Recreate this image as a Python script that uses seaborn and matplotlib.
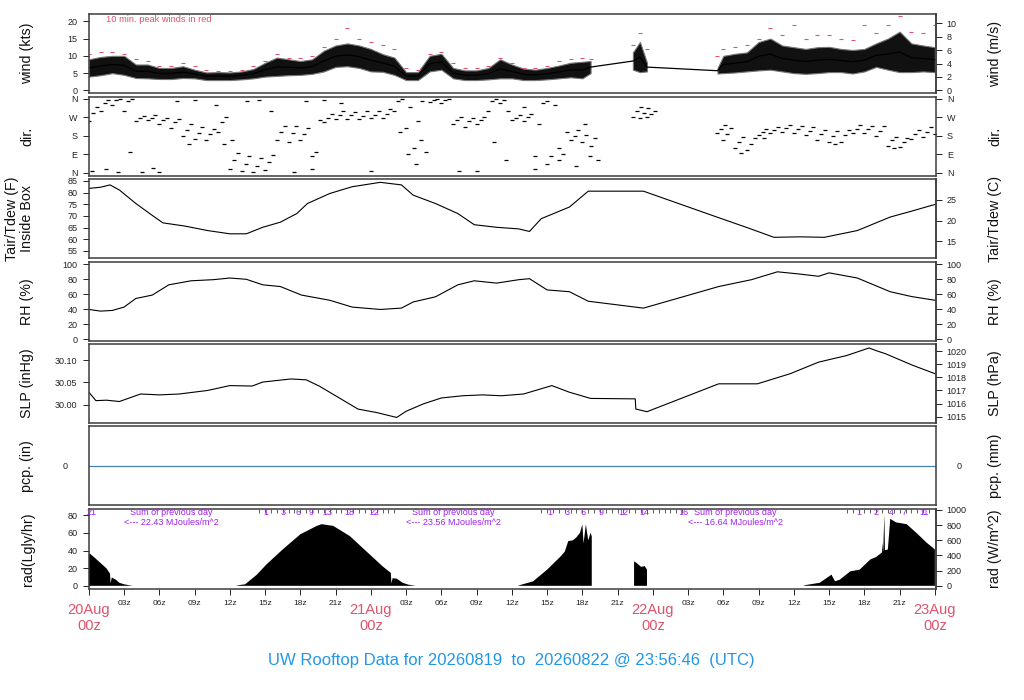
import numpy as np
import pandas as pd
import matplotlib
matplotlib.use("Agg")
import matplotlib.pyplot as plt
import seaborn as sns

# ------------------------------------------------------------------
# DATA  (time = hours after 20 Aug 00z)
# ------------------------------------------------------------------
wind_t = [0, 1, 2, 3, 4, 5, 6, 7, 8, 9, 10, 11, 12, 13, 14, 15, 16, 17, 18, 19,
          20, 21, 22, 23, 24, 25, 26, 27, 28, 29, 30, 31, 32, 33, 34, 35, 36, 37,
          38, 39, 40, 41, 42, 42.7, 46.3, 46.9, 47.5, 53.5, 54, 55, 56, 57, 58,
          59, 60, 61, 62, 63, 64, 65, 66, 67, 68, 69, 70, 71, 72]
wind_lo = [4.0, 4.4, 5.0, 4.5, 3.6, 3.5, 3.3, 3.3, 3.6, 3.5, 3.0, 3.0, 3.0, 3.2, 3.5,
           4.0, 4.2, 4.4, 4.5, 4.8, 5.5, 6.8, 7.0, 6.5, 5.5, 5.4, 4.5, 3.0, 3.0, 5.5,
           6.0, 3.5, 3.0, 3.0, 3.2, 3.5, 3.5, 3.0, 3.0, 3.2, 3.5, 3.8, 3.5,
           5.0, 6.0, 5.3, 5.5, 4.9, 5.0, 5.2, 5.5, 5.8, 6.0, 5.5, 5.0, 4.8, 5.0,
           5.3, 5.3, 4.9, 5.5, 6.8, 6.0, 5.3, 5.3, 5.5, 5.3]
wind_hi = [9.0, 9.7, 10.0, 10.0, 7.5, 7.5, 6.5, 6.5, 7.0, 6.0, 5.2, 5.3, 5.2, 5.5, 6.2,
           8.0, 9.5, 9.0, 8.5, 9.0, 11.5, 13.0, 13.6, 13.0, 12.0, 10.5, 9.5, 5.3, 5.3,
           10.0, 10.6, 6.5, 5.8, 5.8, 6.5, 9.0, 7.5, 6.3, 6.0, 6.5, 7.2, 8.0, 8.3,
           8.5, 11.0, 14.0, 8.0, 6.5, 10.0, 10.6, 11.0, 14.0, 15.0, 13.0, 12.5, 12.0,
           12.5, 12.6, 12.0, 11.7, 12.0, 13.6, 15.0, 17.0, 13.6, 13.0, 12.5]
wind_gust = [10.5, 11.0, 11.0, 10.5, 9.0, 8.5, 7.0, 7.0, 8.0, 7.0, 6.0, 5.5, 5.5, 6.0,
             7.0, 8.5, 10.5, 9.5, 9.5, 10.0, 12.5, 15.0, 18.0, 15.0, 14.0, 13.0, 12.0,
             6.5, 6.0, 10.5, 11.0, 8.0, 6.5, 6.5, 7.0, 9.5, 8.0, 6.5, 6.5, 7.0, 8.5,
             9.0, 9.5, 9.0, 13.0, 16.5, 12.0, 10.0, 12.0, 12.5, 13.0, 15.0, 18.0, 16.0,
             19.0, 15.0, 16.0, 16.0, 15.0, 14.6, 19.0, 16.5, 19.0, 21.6, 17.0, 16.5, 19.0]

# wind direction (deg, 0 = N) : three readings per hour (lower / central / upper)
dir_t = wind_t
dir_lo = [250, 300, 330, 300, 250, 255, 240, 220, 180, 165, 160, 200, 20, 10, 5, 15, 160,
          150, 160, 80, 245, 260, 262, 260, 265, 265, 300, 220, 250, 345, 340, 240, 225,
          240, 300, 340, 255, 250, 80, 40, 60, 160, 150,
          130, 270, 267, 270, 194, 160, 120, 112, 185, 195, 200, 195, 185, 160, 150,
          150, 195, 195, 180, 130, 126, 165, 175, 190]
dir_mid = [290, 340, 355, 350, 265, 265, 255, 245, 210, 195, 190, 245, 60, 40, 30, 50, 200,
           195, 190, 100, 265, 280, 280, 278, 280, 285, 350, 320, 350, 355, 355, 255, 250,
           258, 350, 355, 265, 270, 240, 80, 90, 180, 185,
           170, 300, 290, 285, 215, 190, 150, 140, 200, 210, 220, 215, 205, 190, 180,
           185, 215, 215, 205, 160, 150, 190, 200, 215]
dir_hi = [320, 355, 360, 360, 275, 280, 265, 260, 240, 225, 215, 270, 95, 80, 70, 85, 230,
          230, 220, 255, 285, 300, 295, 300, 300, 310, 360, 120, 100, 360, 360, 270, 268,
          270, 360, 300, 280, 285, 340, 330, 200, 210, 80,
          60, 320, 315, 300, 233, 220, 175, 170, 215, 225, 235, 230, 225, 210, 205,
          210, 233, 230, 230, 175, 170, 210, 225, 235]
stray_t = [0.3, 1.5, 2.5, 3.5, 4.5, 5.5, 6.0, 7.5, 8.5, 9.0, 10.8, 11.5, 12.2, 13.5,
           14.5, 15.5, 17.5, 18.5, 19.0, 20.0, 21.5, 24.0, 26.5, 27.2, 27.8, 28.3, 31.5,
           33.0, 34.5, 35.5, 37.0, 38.0, 39.0, 40.0, 41.5, 42.2, 55.5, 57.5, 63.5, 68.5]
stray_d = [10, 20, 5, 100, 5, 25, 3, 350, 140, 355, 330, 140, 160, 350, 355, 300, 5, 350,
           20, 355, 340, 10, 200, 90, 40, 160, 10, 10, 150, 60, 320, 20, 350, 120, 30,
           240, 95, 170, 140, 120]

temp_t = [0, 1.0, 1.8, 2.6, 4.0, 5.4, 6.3, 8.2, 10.1, 12.0, 13.4, 14.8, 16.3, 17.7, 18.6,
          20.5, 22.4, 24.8, 26.6, 27.6, 29.5, 31.4, 32.8, 34.7, 36.6, 37.5, 38.5, 40.9,
          42.5, 46.3, 47.2, 53.5, 56.0, 58.3, 60.5, 62.6, 65.4, 68.2, 70.0, 72.0]
temp_f = [81.8, 82.3, 83.3, 81.1, 75.3, 70.2, 67.0, 65.6, 63.7, 62.3, 62.3, 65.1, 67.3,
          71.0, 75.3, 79.6, 82.5, 84.4, 83.3, 78.9, 75.3, 71.0, 66.2, 65.1, 64.4, 63.3,
          68.8, 73.8, 80.6, 80.6, 80.6, 69.4, 65.0, 60.8, 61.0, 60.8, 63.7, 69.5, 72.0, 74.9]

rh_t = [0, 1, 2, 3, 4, 5.4, 6.8, 8.7, 10.6, 12.0, 13.4, 14.8, 16.3, 18.1, 20.5, 22.4,
        24.8, 26.6, 27.6, 29.5, 31.4, 32.8, 34.7, 36.6, 37.5, 39.0, 40.9, 42.5, 47.2,
        53.6, 56.4, 58.6, 60.5, 62.1, 63.0, 65.4, 68.2, 70.0, 72.0]
rh = [39.7, 37.5, 38.4, 42.9, 54.4, 58.9, 72.6, 78.0, 79.5, 81.7, 80.0, 72.6, 70.3, 58.9,
      52.0, 42.9, 39.7, 41.5, 49.7, 56.6, 72.6, 78.0, 74.9, 79.5, 80.8, 65.8, 63.4, 50.7,
      41.5, 70.3, 79.5, 90.0, 87.0, 84.0, 88.6, 81.7, 63.4, 57.0, 52.0]

slp_t = [0, 0.6, 1.5, 2.6, 4.4, 6.0, 7.7, 10.1, 12.0, 13.9, 14.8, 17.2, 18.5, 19.6, 21.0,
         22.9, 24.5, 26.2, 27.0, 28.5, 30.0, 31.8, 33.5, 35.1, 37.0, 39.4, 40.9, 42.7,
         46.5, 46.55, 47.5, 53.6, 56.9, 59.7, 62.1, 64.5, 66.4, 67.0, 67.8, 70.1, 72.0]
slp_inhg = [30.028, 30.009, 30.010, 30.007, 30.024, 30.022, 30.024, 30.032, 30.043, 30.042,
            30.051, 30.058, 30.056, 30.042, 30.020, 29.990, 29.982, 29.971, 29.985, 30.002,
            30.015, 30.020, 30.022, 30.020, 30.024, 30.043, 30.028, 30.014, 30.013, 29.990,
            29.984, 30.047, 30.047, 30.070, 30.096, 30.111, 30.128, 30.122, 30.115, 30.089,
            30.070]

pcp_t = [0, 72]
pcp_in = [0.0, 0.0]

nan = float("nan")
rad_t = [0, 0.5, 1.0, 1.5, 1.8, 1.85, 1.95, 2.3, 2.6, 3.0, 3.6, 3.8, 12.5, 12.8, 13.3,
         13.5, 14.3, 15.1, 16.5, 18.0, 19.4, 19.8, 20.8, 22.2, 23.6, 25.0, 25.7, 25.75,
         25.85, 26.2, 26.7, 27.2, 27.7, 27.8, 36.5, 36.8, 37.8, 39.0, 40.1, 40.5, 40.8,
         41.2, 41.5, 41.8, 42.0, 42.1, 42.3, 42.5, 42.7, 42.8, 44.0, 46.4, 46.7, 47.0,
         47.3, 47.5, 50.0, 53.5, 60.8, 61.0, 62.2, 63.2, 63.5, 63.9, 64.8, 65.6, 66.5,
         67.0, 67.5, 67.55, 67.6, 67.7, 67.75, 68.0, 68.2, 68.7, 69.6, 70.4, 71.3, 72.0]
rad_w = [436, 370, 300, 230, 160, 30, 110, 80, 40, 20, 3, 0, 0, 10, 20,
         45, 147, 280, 480, 680, 790, 813, 790, 657, 457, 257, 170, 30,
         100, 95, 40, 15, 3, 0, 0, 15, 58, 213, 380, 450, 590,
         600, 640, 700, 810, 560, 810, 600, 700, 650, nan, 324, 290, 250,
         260, 213, nan, 0, 0, 10, 40, 147, 60, 80, 191, 213, 347,
         380, 440, 569, 440, 947, 470, 480, 884, 836, 813, 702, 569, 480]

# running daily radiation sums (MJ/m^2) printed along the top of the panel
cum_t = [0.25, 15.1, 16.5, 17.8, 18.9, 20.3, 22.2, 24.3,
         39.2, 40.7, 42.1, 43.6, 45.5, 47.3, 50.6,
         65.5, 67.0, 68.3, 69.4, 71.1]
cum_labels = ["21", "1", "3", "6", "9", "13", "18", "22",
              "1", "3", "6", "9", "12", "14", "16",
              "1", "2", "4", "7", "11"]
cum_tick_spans = [(14.5, 26.0), (38.5, 50.5), (64.5, 72.0)]
sum_t = [7.05, 31.05, 55.05]
sum_values = ["22.43", "23.56", "16.64"]

day_t = [0, 24, 48, 72]
day_labels = ["20Aug", "21Aug", "22Aug", "23Aug"]
xtick_hours = list(range(0, 73, 3))

# ------------------------------------------------------------------
# STYLE
# ------------------------------------------------------------------
sns.set_theme(style="ticks")
plt.rcParams["font.family"] = ["Liberation Sans", "DejaVu Sans"]
plt.rcParams["axes.facecolor"] = "white"

RED = "#DF536B"
PURPLE = "#A020F0"
BLUE = "#2297E6"
LY_TO_W = 11.63
KT_TO_MS = 0.514444
HPA_TO_INHG = 0.0295300

W, H = 1024.0, 700.0
X0, X1 = 88.5, 935.7
panel_tops = [14.0, 96.7, 179.3, 261.7, 344.0, 426.0, 509.3]
PH = 79.2
XLIM = (-0.03, 72.07)

fig = plt.figure(figsize=(10.24, 7.0), dpi=100)
axes = [fig.add_axes([X0 / W, 1 - (t + PH) / H, (X1 - X0) / W, PH / H]) for t in panel_tops]
ax_w, ax_d, ax_t, ax_rh, ax_p, ax_pc, ax_r = axes

TICK = dict(direction="out", length=4, width=0.7, labelsize=6.5, colors="#222222")


def style(ax):
    ax.set_xlim(XLIM)
    for s in ax.spines.values():
        s.set_color("#3c3c3c")
        s.set_linewidth(1.1)
    ax.tick_params(axis="y", pad=4, **TICK)
    ax.tick_params(axis="x", bottom=False, labelbottom=False)
    ax.set_xlabel("")
    ax.set_ylabel("")
    ax.grid(False)


def right_axis(ax, f, g, ticks, labels=None):
    sec = ax.secondary_yaxis("right", functions=(f, g))
    sec.set_yticks(ticks)
    if labels is not None:
        sec.set_yticklabels(labels)
    sec.tick_params(axis="y", pad=4, **TICK)
    sec.spines["right"].set_color("#3c3c3c")
    sec.spines["right"].set_linewidth(1.1)
    return sec


# ---------------- wind ----------------
wt = np.array(wind_t, float)
wlo = np.array(wind_lo, float)
whi = np.array(wind_hi, float)
breaks = np.where(np.diff(wt) > 1.5)[0] + 1
for seg in np.split(np.arange(len(wt)), breaks):
    if len(seg) > 1:
        ax_w.fill_between(wt[seg], wlo[seg], whi[seg], color="#111111",
                          edgecolor="#777777", linewidth=0.8)
sns.lineplot(x=wt, y=(wlo + whi) / 2, ax=ax_w, color="black", linewidth=0.9,
             estimator=None, sort=False)
ax_w.plot(wt, wind_gust, ls="none", marker="_", ms=3.2, mew=0.8, color=RED)
ax_w.set_ylim(-0.8, 22.1)
ax_w.set_yticks([0, 5, 10, 15, 20])
style(ax_w)
right_axis(ax_w, lambda k: k * KT_TO_MS, lambda m: m / KT_TO_MS, [0, 2, 4, 6, 8, 10])
ax_w.text(1.5, 0.935, "10 min. peak winds in red", transform=ax_w.get_xaxis_transform(),
          ha="left", va="center", fontsize=6.7, color=RED)

# ---------------- direction ----------------
dt = np.array(dir_t, float)
pts = pd.DataFrame({
    "t": np.concatenate([dt, dt + 1 / 3, dt + 2 / 3, np.array(stray_t, float)]),
    "d": np.concatenate([dir_lo, dir_mid, dir_hi, stray_d]).astype(float),
})
sns.scatterplot(data=pts, x="t", y="d", ax=ax_d, marker="_", color="black", s=7,
                linewidth=0.9)
ax_d.set_ylim(-16, 371)
ax_d.set_yticks([0, 90, 180, 270, 360])
ax_d.set_yticklabels(["N", "E", "S", "W", "N"])
style(ax_d)
ax_d.tick_params(axis="y", right=True, labelright=True)

# ---------------- temperature ----------------
sns.lineplot(x=temp_t, y=temp_f, ax=ax_t, color="black", linewidth=0.8,
             estimator=None, sort=False)
ax_t.set_ylim(51.7, 85.7)
ax_t.set_yticks([55, 60, 65, 70, 75, 80, 85])
style(ax_t)
right_axis(ax_t, lambda f: (f - 32) * 5 / 9, lambda c: c * 9 / 5 + 32, [15, 20, 25])

# ---------------- RH ----------------
sns.lineplot(x=rh_t, y=rh, ax=ax_rh, color="black", linewidth=0.8,
             estimator=None, sort=False)
ax_rh.set_ylim(-2.3, 103.5)
ax_rh.set_yticks([0, 20, 40, 60, 80, 100])
style(ax_rh)
right_axis(ax_rh, lambda v: v, lambda v: v, [0, 20, 40, 60, 80, 100])

# ---------------- SLP ----------------
sns.lineplot(x=slp_t, y=slp_inhg, ax=ax_p, color="black", linewidth=0.8,
             estimator=None, sort=False)
ax_p.set_ylim(29.958, 30.137)
ax_p.set_yticks([30.00, 30.05, 30.10])
ax_p.set_yticklabels(["30.00", "30.05", "30.10"])
style(ax_p)
right_axis(ax_p, lambda i: i / HPA_TO_INHG, lambda h: h * HPA_TO_INHG,
           [1015, 1016, 1017, 1018, 1019, 1020])

# ---------------- precipitation ----------------
sns.lineplot(x=pcp_t, y=pcp_in, ax=ax_pc, color="steelblue", linewidth=0.9,
             estimator=None, sort=False)
ax_pc.set_ylim(-1, 1)
ax_pc.set_yticks([0])
ax_pc.set_yticklabels(["0"])
style(ax_pc)
ax_pc.tick_params(axis="y", left=False, right=False, labelright=True, pad=11)

# ---------------- radiation ----------------
rt = np.array(rad_t, float)
rly = np.array(rad_w, float) / LY_TO_W
ax_r.fill_between(rt, 0, rly, color="black", linewidth=0)
ax_r.set_ylim(-35.5 / LY_TO_W, 1009 / LY_TO_W)
ax_r.set_yticks([0, 20, 40, 60, 80])
style(ax_r)
right_axis(ax_r, lambda l: l * LY_TO_W, lambda w: w / LY_TO_W, [0, 200, 400, 600, 800, 1000])
ax_r.set_xticks(xtick_hours)
ax_r.set_xticklabels(["" if h % 24 == 0 else f"{h % 24:02d}z" for h in xtick_hours])
ax_r.tick_params(axis="x", bottom=True, labelbottom=True, direction="out", length=4,
                 width=0.7, pad=4, labelsize=6, colors="#222222")
xtr = ax_r.get_xaxis_transform()
for t0, t1 in cum_tick_spans:
    tk = np.arange(t0, t1 + 1e-6, 0.5)
    ax_r.plot(tk, np.full(len(tk), 0.975), transform=xtr, ls="none", marker="|",
              ms=2.5, mew=0.6, color="#444444", clip_on=False)
for t, lab in zip(cum_t, cum_labels):
    ax_r.text(t, 0.955, lab, transform=xtr, ha="center", va="center",
              fontsize=6.5, color=PURPLE)
for t, v in zip(sum_t, sum_values):
    ax_r.text(t, 0.955, "Sum of previous day", transform=xtr, ha="center",
              va="center", fontsize=6.5, color=PURPLE)
    ax_r.text(t, 0.83, f"<--- {v} MJoules/m^2", transform=xtr, ha="center",
              va="center", fontsize=6.5, color=PURPLE)
for t, lab in zip(day_t, day_labels):
    ax_r.text(t, -0.27, lab, transform=xtr, ha="center", va="center",
              fontsize=10.5, color=RED)
    ax_r.text(t, -0.475, "00z", transform=xtr, ha="center", va="center",
              fontsize=10.5, color=RED)

# ---------------- side labels ----------------
left_labels = ["wind (kts)", "dir.", "Tair/Tdew (F)\nInside Box", "RH (%)",
               "SLP (inHg)", "pcp. (in)", "rad(Lgly/hr)"]
right_labels = ["wind (m/s)", "dir.", "Tair/Tdew (C)", "RH (%)", "SLP (hPa)",
                "pcp. (mm)", "rad (W/m^2)"]
for top, ll, rl in zip(panel_tops, left_labels, right_labels):
    yc = 1 - (top + PH / 2) / H
    xl = 19.5 if "\n" in ll else 27.5
    fig.text(xl / W, yc, ll, rotation=90, ha="center", va="center", fontsize=10.3,
             linespacing=1.05, color="#111111")
    fig.text(995 / W, yc, rl, rotation=90, ha="center", va="center", fontsize=10.3,
             color="#111111")

fig.text(511.5 / W, 1 - 660 / H,
         "UW Rooftop Data for 20260819  to  20260822 @ 23:56:46  (UTC)",
         ha="center", va="center", fontsize=12, color=BLUE)

fig.savefig("out.png", dpi=100, facecolor="white")
